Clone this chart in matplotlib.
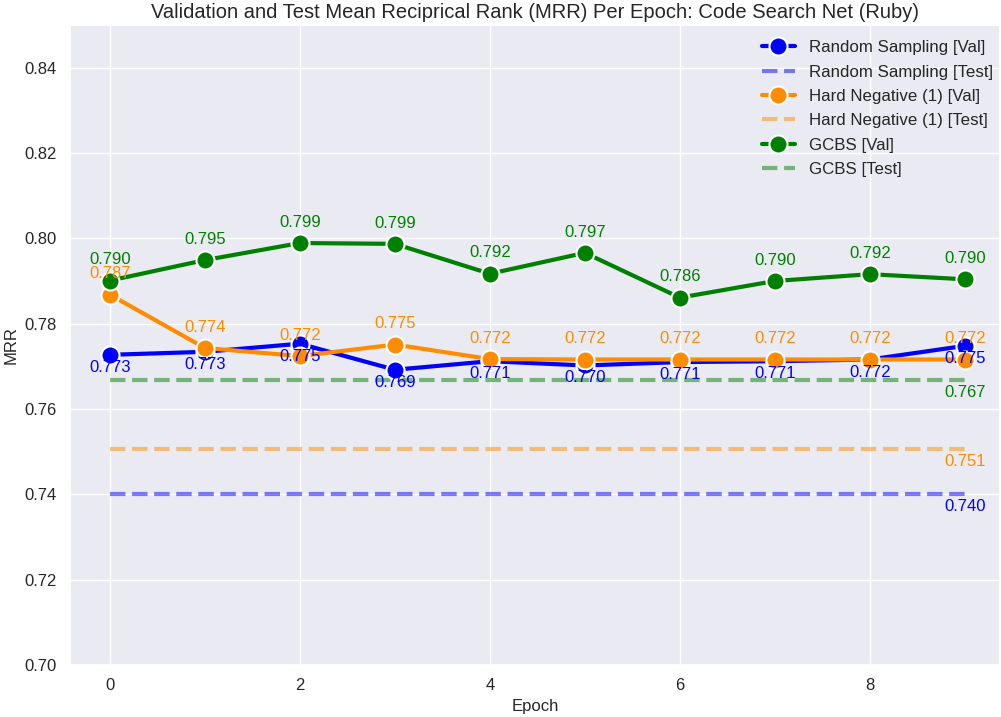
import numpy as np
import matplotlib
matplotlib.use('Agg')
import matplotlib.pyplot as plt
import seaborn as sns

sns.set_theme(style='darkgrid')
plt.rcParams['font.family'] = ['Liberation Sans', 'DejaVu Sans']

epochs = np.arange(10)

random_val = [0.7727, 0.7734, 0.7753, 0.7692, 0.7712, 0.7702, 0.7710, 0.7712, 0.7716, 0.7748]
hard_val = [0.7868, 0.7743, 0.7724, 0.7751, 0.7717, 0.7716, 0.7716, 0.7716, 0.7716, 0.7716]
gcbs_val = [0.7901, 0.7949, 0.7989, 0.7987, 0.7917, 0.7966, 0.7861, 0.7900, 0.7916, 0.7904]

random_test = 0.7401
hard_test = 0.7506
gcbs_test = 0.7667

series = [
    ('Random Sampling', random_val, random_test, 'blue', -9),
    ('Hard Negative (1)', hard_val, hard_test, 'darkorange', 15),
    ('GCBS', gcbs_val, gcbs_test, 'green', 15),
]

fig = plt.figure(figsize=(10.01, 7.17), dpi=100)
ax = fig.add_axes([70 / 1001, 52 / 717, 930 / 1001, 640 / 717])

for name, val, test, color, dy in series:
    ax.plot(epochs, val, '-o', color=color, lw=3, ms=13, mec='white', mew=1.5,
            label=f'{name} [Val]', zorder=3)
    ax.plot([epochs[0], epochs[-1]], [test, test], '--', color=color, lw=3,
            alpha=0.5, label=f'{name} [Test]', zorder=2)

# value labels drawn above all lines and markers
for name, val, test, color, dy in series:
    for x, y in zip(epochs, val):
        ax.annotate(f'{y:.3f}', (x, y), textcoords='offset points', xytext=(0, dy),
                    ha='center', va='center', color=color, fontsize=12, zorder=6)
    ax.annotate(f'{test:.3f}', (epochs[-1], test), textcoords='offset points',
                xytext=(0, -9), ha='center', va='center', color=color, fontsize=12,
                zorder=6)

ax.set_xlim(-0.42, 9.37)
ax.set_ylim(0.70, 0.85)
ax.set_yticks(np.arange(0.70, 0.841, 0.02))
ax.set_xlabel('Epoch', fontsize=12)
ax.set_ylabel('MRR', fontsize=12)
ax.tick_params(labelsize=12)
ax.set_title('Validation and Test Mean Reciprical Rank (MRR) Per Epoch: Code Search Net (Ruby)',
             fontsize=14.5, pad=5)
ax.legend(loc='upper right', bbox_to_anchor=(1.009, 1.0), fontsize=12.2,
          frameon=False, borderaxespad=0.5, labelspacing=0.55)

fig.savefig('out.png', dpi=100)
